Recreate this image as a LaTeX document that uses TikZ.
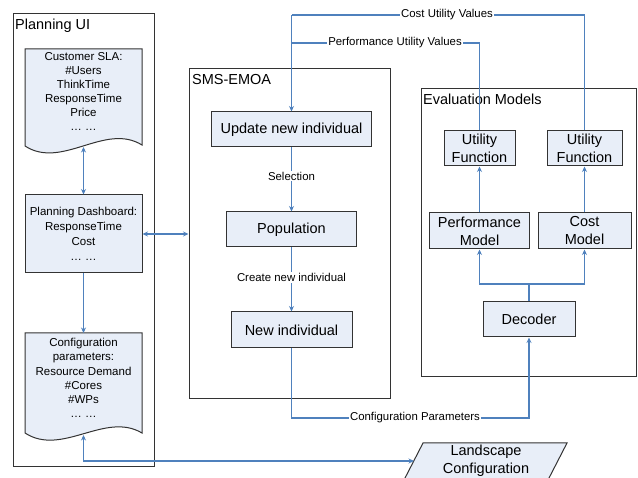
\documentclass[tikz,border=0pt]{standalone}
\usepackage{fontspec}
\setmainfont{Liberation Sans}
\usetikzlibrary{arrows.meta}
\definecolor{linkblue}{HTML}{4F81BD}
\definecolor{boxfill}{HTML}{E8EEF8}
\definecolor{framegray}{HTML}{333333}
\tikzset{
 container/.style={draw=framegray, line width=1pt, inner sep=0pt},
 box/.style={draw=framegray, fill=boxfill, line width=1pt, font=\fontsize{14.5}{18}\selectfont, align=center, inner sep=0pt},
 doctext/.style={font=\fontsize{11.5}{14}\selectfont, align=center, inner sep=0pt},
 lbl/.style={font=\fontsize{11.4}{13}\selectfont, fill=white, inner sep=1pt},
 ttl/.style={font=\fontsize{14.5}{18}\selectfont, anchor=base west, inner sep=0pt},
 link/.style={draw=linkblue, line width=1.1pt},
 arr/.style={link, -{Stealth[length=5.5pt,width=5pt]}},
 darr/.style={link, {Stealth[length=5.5pt,width=5pt]}-{Stealth[length=5.5pt,width=5pt]}},
}
\begin{document}
\begin{tikzpicture}[x=1pt,y=-1pt]
\useasboundingbox (0,0) rectangle (638,478);
% containers
\node[container, minimum width=141pt, minimum height=453pt] (pui) at (83.5,240.5) {};
\node[ttl] (puit) at (15,30) {Planning UI};
\node[container, minimum width=201pt, minimum height=330pt] (sms) at (289.5,234) {};
\node[ttl] (smst) at (192,85) {SMS-EMOA};
\node[container, minimum width=215pt, minimum height=288pt] (eval) at (528.5,233) {};
\node[ttl] (evalt) at (423,105) {Evaluation Models};
% documents
\draw[box] (25,49) -- (142,49) -- (142,145) .. controls (105,122) and (62,170) .. (25,146) -- cycle;
\node[doctext] (sla) at (83.5,91) {Customer SLA:\\\#Users\\ThinkTime\\ResponseTime\\Price\\… …};
\coordinate (slab) at (83.5,147);
\node[box, font=\fontsize{11.5}{15}\selectfont, minimum width=117pt, minimum height=78pt] (dash) at (83.5,234) {Planning Dashboard:\\ResponseTime\\Cost\\… …};
\draw[box] (25,333) -- (142,333) -- (142,433) .. controls (105,411) and (62,457) .. (25,433) -- cycle;
\node[doctext, font=\fontsize{11.5}{14.2}\selectfont] (cfg) at (83.5,378) {Configuration\\parameters:\\Resource Demand\\\#Cores\\\#WPs\\… …};
\coordinate (cfgtop) at (83.5,333);
\coordinate (cfgbot) at (83.5,435);
% landscape
\draw[box] (423,443) -- (567,443) -- (548,480) -- (404,480) -- cycle;
\node[box, draw=none, fill=none] (land) at (486,461) {Landscape\\Configuration};
\coordinate (landin) at (414,461);
% SMS-EMOA boxes
\node[box, minimum width=160pt, minimum height=35pt] (upd) at (291.5,129.5) {Update new individual};
\node[box, minimum width=130pt, minimum height=35pt] (pop) at (291.5,229.5) {Population};
\node[box, minimum width=121pt, minimum height=36pt] (newi) at (291.5,330) {New individual};
% evaluation boxes
\node[box, minimum width=71pt, minimum height=35pt] (uf1) at (479.5,148.5) {Utility\\Function};
\node[box, minimum width=75pt, minimum height=35pt] (uf2) at (584.5,148.5) {Utility\\Function};
\node[box, minimum width=100pt, minimum height=36pt] (pm) at (479.5,231) {Performance\\Model};
\node[box, minimum width=93pt, minimum height=36pt] (cm) at (584.5,231) {Cost\\Model};
\node[box, minimum width=92pt, minimum height=35pt] (dec) at (529,319.5) {Decoder};
% connectors
\draw[darr] (slab) -- (dash.north);
\draw[arr] (dash.south) -- (cfgtop);
\draw[darr] (cfgbot) |- (landin);
\draw[darr] (dash.east) -- (sms.west);
\coordinate (cu) at (291.5,15);
\coordinate (pu) at (291.5,43);
\draw[link] (uf2.north) |- (cu);
\draw[link] (uf1.north) |- (pu);
\draw[arr] (cu) -- (upd.north);
\node[lbl] (cul) at (447,15) {Cost Utility Values};
\node[lbl] (pul) at (395,43) {Performance Utility Values};
\draw[arr] (upd.south) -- node[lbl, pos=0.45] (sel) {Selection} (pop.north);
\draw[arr] (pop.south) -- node[lbl, pos=0.47] (cni) {Create new individual} (newi.north);
\coordinate (cpc) at (529,418);
\draw[arr] (newi.south) |- (cpc) -- (dec.south);
\node[lbl] (cpl) at (415,418) {Configuration Parameters};
\coordinate (split) at (529,284);
\draw[link] (dec.north) -- (split);
\draw[arr] (split) -| (pm.south);
\draw[arr] (split) -| (cm.south);
\draw[arr] (pm.north) -- (uf1.south);
\draw[arr] (cm.north) -- (uf2.south);
\end{tikzpicture}
\end{document}
